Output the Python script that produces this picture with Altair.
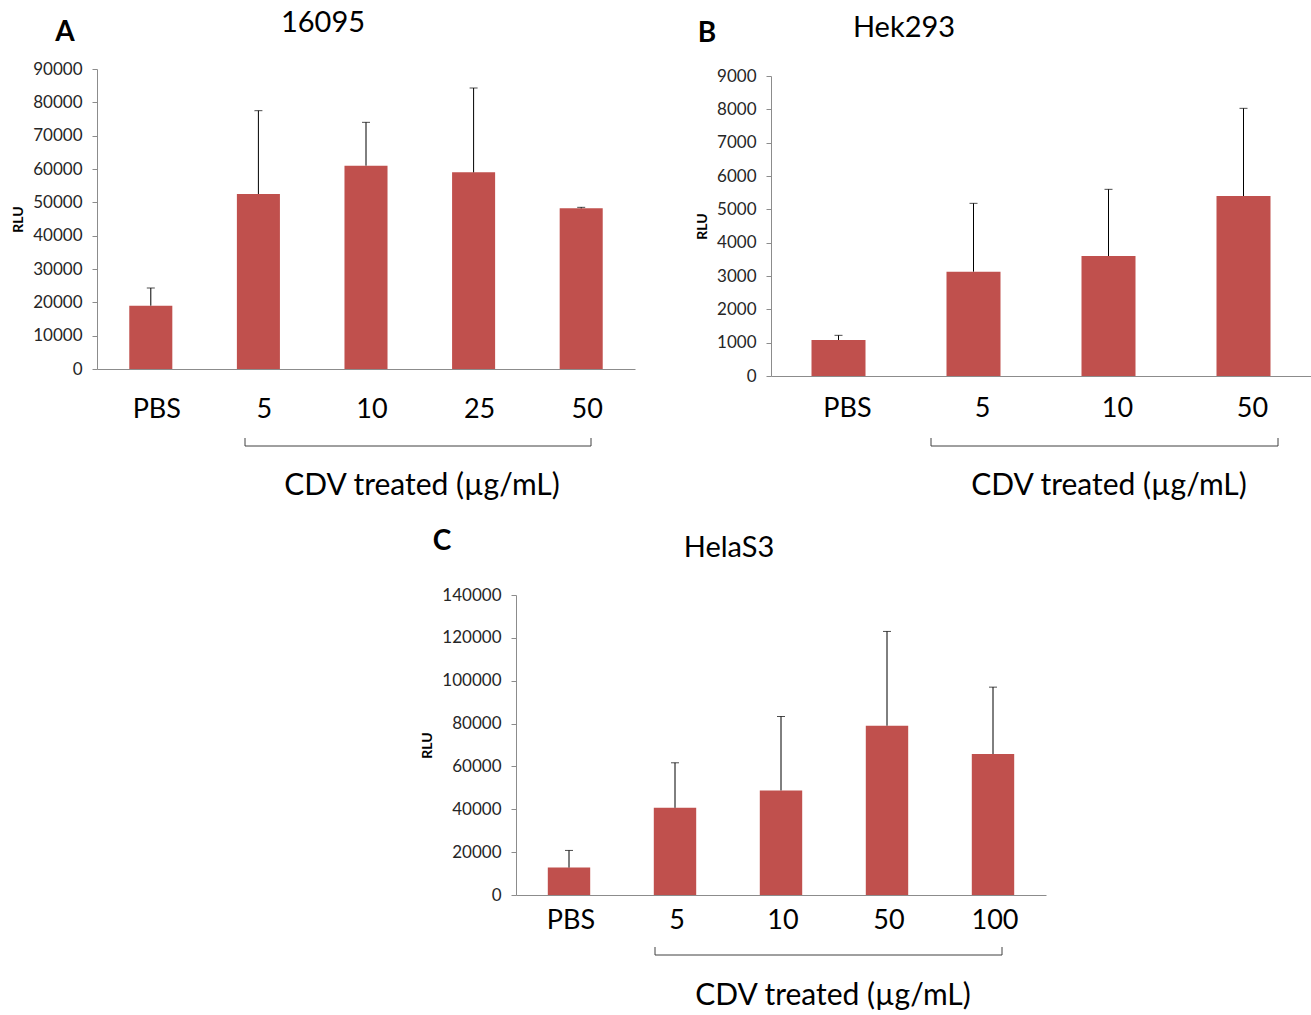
import altair as alt
import pandas as pd

BAR = "#C0504D"
FONT = "Lato"
AXIS_GRAY = "#8c8c8c"

# Panel A: 16095
a_cats = ["PBS", "5", "10", "25", "50"]
a_vals = [19000, 52500, 61000, 59000, 48200]
a_hi = [24300, 77500, 74000, 84300, 48500]

# Panel B: Hek293
b_cats = ["PBS", "5", "10", "50"]
b_vals = [1080, 3130, 3600, 5400]
b_hi = [1220, 5180, 5600, 8030]

# Panel C: HelaS3
c_cats = ["PBS", "5", "10", "50", "100"]
c_vals = [12800, 40700, 48800, 79000, 65800]
c_hi = [20800, 61700, 83300, 123000, 97000]

titles = ["16095", "Hek293", "HelaS3"]
letters = ["A", "B", "C"]
group_label = "CDV treated (µg/mL)"
y_title = "RLU"


def text_layer(txt, x, y, size, bold=False):
    return alt.Chart(pd.DataFrame({"t": [txt]})).mark_text(
        font=FONT, fontSize=size, fontWeight="bold" if bold else "normal",
        color="black", align="center", baseline="middle"
    ).encode(x=alt.value(x), y=alt.value(y), text="t:N")


def rule_layer(x, x2, y, y2):
    return alt.Chart(pd.DataFrame({"d": [0]})).mark_rule(
        color="#404040", strokeWidth=1
    ).encode(x=alt.value(x), x2=alt.value(x2), y=alt.value(y), y2=alt.value(y2))


def panel(cats, vals, his, ymax, ystep, W, H, yoff, label_pad, label_off,
          title, title_xy, letter, letter_xy, br_x1, br_x2, br_y, lab_xy):
    df = pd.DataFrame({"cat": cats, "val": vals, "hi": his})
    x_axis = alt.Axis(title=None, labelAngle=0, labelFont=FONT,
                      labelFontSize=27, labelColor="black",
                      labelPadding=label_pad, labelOffset=label_off,
                      ticks=False, domainColor=AXIS_GRAY, domainWidth=1)
    x_scale = alt.Scale(paddingInner=0.6, paddingOuter=0.3)
    y_scale = alt.Scale(domain=[0, ymax], nice=False, range=[H + yoff, yoff])
    y_axis = alt.Axis(title=y_title, values=list(range(0, ymax + 1, ystep)),
                      format="d", grid=False, tickSize=5, labelOverlap=False,
                      tickColor=AXIS_GRAY, domainColor=AXIS_GRAY,
                      labelFont=FONT, labelFontSize=17, labelColor="#262626",
                      labelPadding=10, titleFont=FONT, titleFontSize=14,
                      titleFontWeight="bold", titleColor="black",
                      titlePadding=7)
    x = alt.X("cat:N", sort=cats, scale=x_scale, axis=x_axis)
    base = alt.Chart(df)
    bars = base.mark_bar(color=BAR).encode(
        x=x, y=alt.Y("val:Q", scale=y_scale, axis=y_axis))
    err = base.mark_rule(color="black", strokeWidth=1).encode(
        x=x, y=alt.Y("val:Q", scale=y_scale, axis=y_axis), y2="hi:Q")
    cap = base.mark_tick(color="black", size=8, thickness=1).encode(
        x=x, y=alt.Y("hi:Q", scale=y_scale, axis=y_axis))
    layers = [bars, err, cap,
              text_layer(title, title_xy[0], title_xy[1], 29),
              text_layer(letter, letter_xy[0], letter_xy[1], 28, bold=True),
              rule_layer(br_x1, br_x2, br_y, br_y),
              rule_layer(br_x1, br_x1, br_y - 8, br_y),
              rule_layer(br_x2, br_x2, br_y - 8, br_y),
              text_layer(group_label, lab_xy[0], lab_xy[1], 30)]
    return alt.layer(*layers).properties(width=W, height=H + yoff)


A = panel(a_cats, a_vals, a_hi, 90000, 10000, 538, 300, 0, 27, 6,
          titles[0], (226, -46), letters[0], (-32, -36),
          148, 494, 377, (325, 417))
B = panel(b_cats, b_vals, b_hi, 9000, 1000, 540, 300, 7, 19, 9,
          titles[1], (133, -41), letters[1], (-64, -35),
          160, 507, 377, (338, 417))
C = panel(c_cats, c_vals, c_hi, 140000, 20000, 530, 300, 0, 12, 2,
          titles[2], (213, -47), letters[2], (-74, -53),
          139, 486, 360, (317, 401))

spacer = alt.Chart(pd.DataFrame({"d": [0]})).mark_point(opacity=0).encode(
    x=alt.value(0), y=alt.value(0)).properties(width=323, height=10)

top = alt.hconcat(A, B, spacing=60)
bottom = alt.hconcat(spacer, C, spacing=0)
chart = alt.vconcat(top, bottom, spacing=27).properties(
    padding={"left": 11, "top": 9, "right": 0, "bottom": 0},
    background="white"
).configure_view(strokeWidth=0, stroke=None)

chart.save("out.html", embed_options={"renderer": "svg", "actions": False})
